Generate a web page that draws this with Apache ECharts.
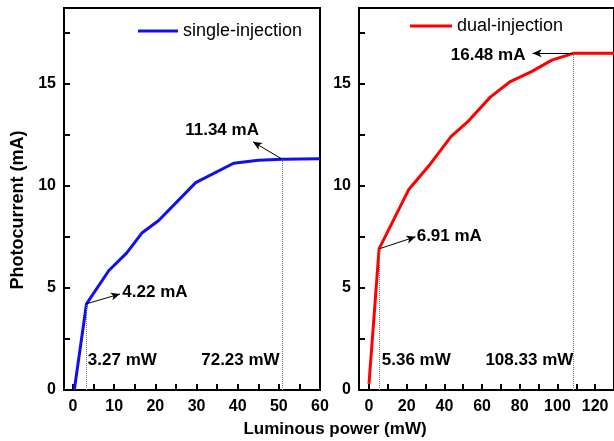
<!DOCTYPE html>
<html>
<head>
<meta charset="utf-8">
<script src="https://cdn.jsdelivr.net/npm/echarts@6/dist/echarts.min.js"></script>
<style>
  html, body { margin: 0; padding: 0; background: #fff; }
  #main { width: 614px; height: 441px; }
</style>
</head>
<body>
<div id="main"></div>
<script>
// single-injection curve (left panel)
var singlePower = [0.3, 3.27, 8.7, 13.0, 16.8, 20.8, 29.8, 39.0, 45.0, 50.8, 60.0];
var singleCurrent = [0, 4.22, 5.85, 6.7, 7.7, 8.3, 10.15, 11.1, 11.25, 11.3, 11.32];
// dual-injection curve (right panel)
var dualPower = [0, 5.36, 21.0, 32.0, 43.5, 52.0, 64.5, 75.0, 86.5, 97.0, 108.33, 130.0];
var dualCurrent = [0.3, 6.91, 9.8, 11.0, 12.4, 13.1, 14.35, 15.1, 15.6, 16.15, 16.48, 16.48];

// tick labels and tick marks (major + minor)
var leftXLabels = [0, 10, 20, 30, 40, 50, 60];
var leftXTicks = [0, 5, 10, 15, 20, 25, 30, 35, 40, 45, 50, 55, 60];
var rightXLabels = [0, 20, 40, 60, 80, 100, 120];
var rightXTicks = [0, 10, 20, 30, 40, 50, 60, 70, 80, 90, 100, 110, 120];
var yLabels = [0, 5, 10, 15];
var yTickMarks = [0, 2.5, 5, 7.5, 10, 12.5, 15, 17.5];

// annotations: [x, y, text, align]
var leftTexts = [
  [36.2, 12.7, '11.34 mA', 'center'],
  [19.9, 4.8, '4.22 mA', 'center'],
  [3.6, 1.47, '3.27 mW', 'left'],
  [50.2, 1.47, '72.23 mW', 'right']
];
var rightTexts = [
  [63.2, 16.4, '16.48 mA', 'center'],
  [42.6, 7.5, '6.91 mA', 'center'],
  [6.8, 1.47, '5.36 mW', 'left'],
  [108.4, 1.47, '108.33 mW', 'right']
];
// arrows: [fromX, fromY, toX, toY]
var leftArrows = [[50.8, 11.3, 43.7, 12.15], [3.27, 4.22, 11.4, 4.7]];
var rightArrows = [[108.33, 16.48, 86.8, 16.48], [5.36, 6.91, 24.7, 7.5]];
// dotted drop lines: [x, y]
var leftDrops = [[3.27, 4.22], [50.8, 11.3]];
var rightDrops = [[5.36, 6.91], [108.33, 16.48]];

var font = 'Liberation Sans, Arial, sans-serif';

function zip(xs, ys) {
  return xs.map(function (x, i) { return [x, ys[i]]; });
}

function markLines(arrows, drops) {
  var data = [];
  drops.forEach(function (d) {
    data.push([
      { coord: [d[0], 0], symbol: 'none', lineStyle: { type: 'dotted', color: '#777', width: 1 } },
      { coord: [d[0], d[1]], symbol: 'none' }
    ]);
  });
  arrows.forEach(function (a) {
    data.push([
      { coord: [a[0], a[1]], symbol: 'none', lineStyle: { type: 'solid', color: '#000', width: 1 } },
      { coord: [a[2], a[3]], symbol: 'arrow', symbolSize: [6, 9] }
    ]);
  });
  return {
    silent: true,
    animation: false,
    label: { show: false },
    emphasis: { disabled: true },
    data: data
  };
}

function textSeries(idx, texts) {
  return {
    type: 'scatter',
    xAxisIndex: idx,
    yAxisIndex: idx,
    symbolSize: 0,
    silent: true,
    itemStyle: { color: '#000', opacity: 1 },
    data: texts.map(function (t) {
      return {
        value: [t[0], t[1]],
        name: t[2],
        label: { align: t[3] }
      };
    }),
    label: {
      show: true,
      position: 'inside',
      formatter: '{b}',
      color: '#000',
      opacity: 1,
      textBorderWidth: 0,
      fontFamily: font,
      fontWeight: 'bold',
      fontSize: 17
    }
  };
}

function xAxisFor(idx, min, max, labels, ticks) {
  return {
    type: 'value', gridIndex: idx, min: min, max: max, position: 'bottom',
    axisLine: { onZero: false, lineStyle: { color: '#000', width: 2 } },
    axisTick: { inside: true, length: 6, customValues: ticks, lineStyle: { width: 2, color: '#000' } },
    axisLabel: { customValues: labels, margin: 9, color: '#000', fontFamily: font, fontWeight: 'bold', fontSize: 16 },
    splitLine: { show: false }
  };
}
function yAxisFor(idx) {
  return {
    type: 'value', gridIndex: idx, min: 0, max: 18.7, position: 'left',
    axisLine: { onZero: false, lineStyle: { color: '#000', width: 2 } },
    axisTick: { inside: true, length: 6, customValues: yTickMarks, lineStyle: { width: 2, color: '#000' } },
    axisLabel: { customValues: yLabels, margin: 8, color: '#000', fontFamily: font, fontWeight: 'bold', fontSize: 16 },
    splitLine: { show: false }
  };
}

var chart = echarts.init(document.getElementById('main'), null, { renderer: 'canvas' });

var option = {
  animation: false,
  backgroundColor: '#fff',
  grid: [
    { left: 64, top: 8, width: 256, height: 382, show: true, borderColor: '#000', borderWidth: 2 },
    { left: 359, top: 8, width: 257, height: 382, show: true, borderColor: '#000', borderWidth: 2 }
  ],
  legend: [
    {
      data: ['single-injection'], left: 133, top: 17, itemWidth: 40, itemHeight: 3, icon: 'rect',
      textStyle: { color: '#000', fontFamily: font, fontSize: 18 }
    },
    {
      data: ['dual-injection'], left: 405, top: 12, itemWidth: 42, itemHeight: 3, icon: 'rect',
      textStyle: { color: '#000', fontFamily: font, fontSize: 18 }
    }
  ],
  xAxis: [
    xAxisFor(0, -2.2, 60, leftXLabels, leftXTicks),
    xAxisFor(1, -5.3, 130, rightXLabels, rightXTicks)
  ],
  yAxis: [
    yAxisFor(0),
    yAxisFor(1)
  ],
  graphic: [
    {
      type: 'text', x: 335, y: 429,
      style: { text: 'Luminous power (mW)', fill: '#000', font: 'bold 17px ' + font, align: 'center', verticalAlign: 'middle' }
    },
    {
      type: 'text', x: 18, y: 210, rotation: Math.PI / 2,
      style: { text: 'Photocurrent (mA)', fill: '#000', font: 'bold 18px ' + font, align: 'center', verticalAlign: 'middle' }
    }
  ],
  series: [
    {
      name: 'single-injection', type: 'line', xAxisIndex: 0, yAxisIndex: 0,
      data: zip(singlePower, singleCurrent), showSymbol: false, symbol: 'none',
      lineStyle: { color: '#1010ee', width: 3 }, itemStyle: { color: '#1010ee' },
      markLine: markLines(leftArrows, leftDrops)
    },
    {
      name: 'dual-injection', type: 'line', xAxisIndex: 1, yAxisIndex: 1,
      data: zip(dualPower, dualCurrent), showSymbol: false, symbol: 'none',
      lineStyle: { color: '#ff0000', width: 3 }, itemStyle: { color: '#ff0000' },
      markLine: markLines(rightArrows, rightDrops)
    },
    textSeries(0, leftTexts),
    textSeries(1, rightTexts)
  ]
};

chart.setOption(option);
</script>
</body>
</html>
